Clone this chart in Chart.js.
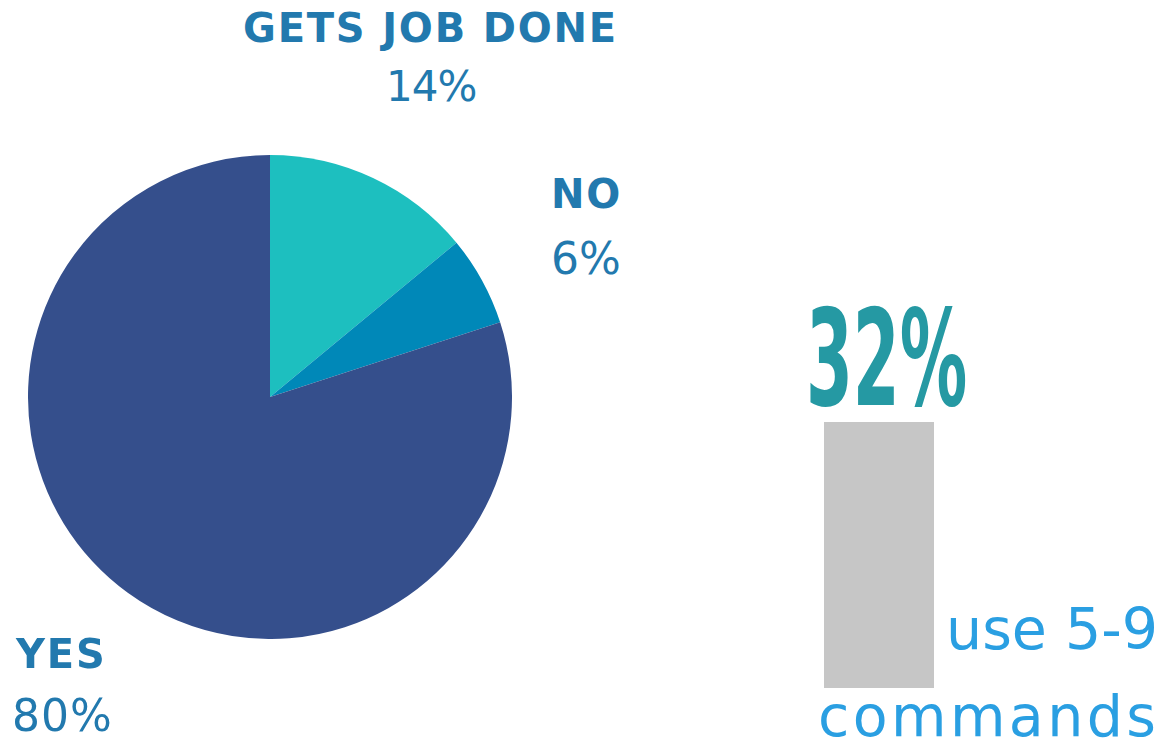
<!DOCTYPE html>
<html>
<head>
<meta charset="utf-8">
<script src="https://cdn.jsdelivr.net/npm/chart.js@4"></script>
<style>
  body { margin: 0; width: 1176px; height: 744px; background: #fff; position: relative; overflow: hidden; font-family: "DejaVu Sans", sans-serif; }
  .abs { position: absolute; white-space: nowrap; line-height: 1; }
  .head { font-weight: bold; color: #2279AE; font-size: 40px; letter-spacing: 1.8px; }
  .pct { color: #2279AE; font-size: 44px; }
  #pieBox { position: absolute; left: 28px; top: 155px; width: 484px; height: 484px; }
  #barBox { position: absolute; left: 824px; top: 422px; width: 110px; height: 266px; }
  #big { color: #2599A3; font-family: "DejaVu Sans Condensed", "DejaVu Sans", sans-serif; font-weight: bold; font-size: 128px; transform-origin: left top; transform: scale(0.585, 1.05); }
  .note { color: #2A9FE2; font-size: 57px; }
</style>
</head>
<body>
<div id="pieBox"><canvas id="pieChart"></canvas></div>
<div id="barBox"><canvas id="barChart"></canvas></div>

<div class="abs head" id="lbl0" style="left:243px; top:8px;"></div>
<div class="abs pct" id="val0" style="left:386px; top:66px; font-size:42px; letter-spacing:-1px;"></div>
<div class="abs head" id="lbl1" style="left:551px; top:174px;"></div>
<div class="abs pct" id="val1" style="left:551px; top:237px;"></div>
<div class="abs head" id="lbl2" style="left:16px; top:634px;"></div>
<div class="abs pct" id="val2" style="left:12px; top:694px; letter-spacing:1px;"></div>

<div class="abs" id="big" style="left:806px; top:292px;"></div>
<div class="abs note" id="note1" style="left:946px; top:601px;"></div>
<div class="abs note" id="note2" style="left:818px; top:688px; letter-spacing:3.4px;"></div>

<script>
// pie: how people answered
var pieLabels = ['GETS JOB DONE', 'NO', 'YES'];
var pieValues = [14, 6, 80];
var pieColors = ['#1DBFBF', '#0088B8', '#354F8C'];

// side stat
var statValue = [32];
var statLines = ['use 5-9', 'commands'];

for (let i = 0; i < pieLabels.length; i++) {
    document.getElementById('lbl' + i).textContent = pieLabels[i];
    document.getElementById('val' + i).textContent = pieValues[i] + '%';
}
document.getElementById('big').textContent = statValue[0] + '%';
document.getElementById('note1').textContent = statLines[0];
document.getElementById('note2').textContent = statLines[1];

new Chart(document.getElementById('pieChart'), {
    type: 'pie',
    data: {
        labels: pieLabels,
        datasets: [{
            data: pieValues,
            backgroundColor: pieColors,
            borderWidth: 0
        }]
    },
    options: {
        responsive: true,
        maintainAspectRatio: false,
        animation: false,
        layout: { padding: 0 },
        plugins: { legend: { display: false }, tooltip: { enabled: false } }
    }
});

new Chart(document.getElementById('barChart'), {
    type: 'bar',
    data: {
        labels: ['5-9'],
        datasets: [{
            data: statValue,
            backgroundColor: '#C6C6C6',
            borderWidth: 0,
            barPercentage: 1,
            categoryPercentage: 1
        }]
    },
    options: {
        responsive: true,
        maintainAspectRatio: false,
        animation: false,
        layout: { padding: 0 },
        scales: {
            x: { display: false },
            y: { display: false, min: 0, max: 32 }
        },
        plugins: { legend: { display: false }, tooltip: { enabled: false } }
    }
});
</script>
</body>
</html>
